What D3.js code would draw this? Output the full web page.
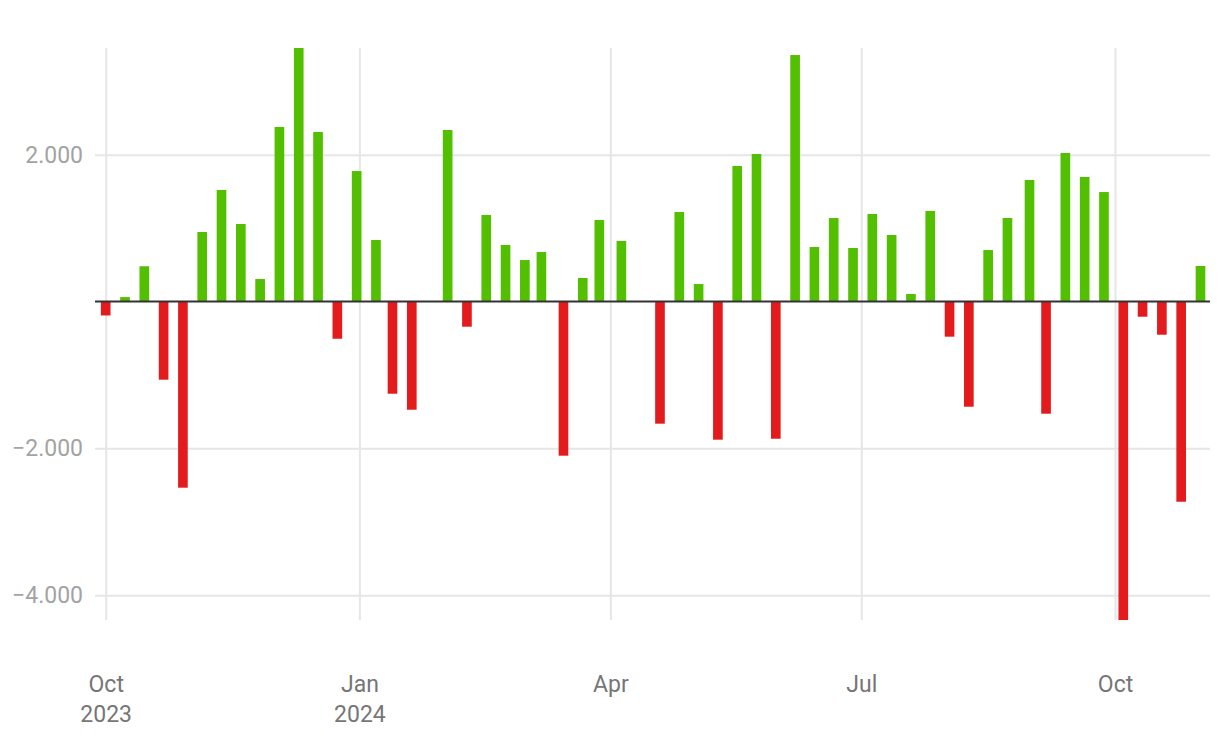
<!DOCTYPE html>
<html><head><meta charset="utf-8">
<script src="https://cdn.jsdelivr.net/npm/d3@7"></script>
<style>body{margin:0;background:#fff} svg{display:block} text{font-family:Roboto, sans-serif}</style>
</head><body><svg id="c" width="1220" height="744"></svg>
<script>
const dates = ["2023-10-01","2023-10-08","2023-10-15","2023-10-22","2023-10-29","2023-11-05","2023-11-12","2023-11-19","2023-11-26","2023-12-03","2023-12-10","2023-12-17","2023-12-24","2023-12-31","2024-01-07","2024-01-13","2024-01-20","2024-02-02","2024-02-09","2024-02-16","2024-02-23","2024-03-01","2024-03-07","2024-03-15","2024-03-22","2024-03-28","2024-04-05","2024-04-19","2024-04-26","2024-05-03","2024-05-10","2024-05-17","2024-05-24","2024-05-31","2024-06-07","2024-06-14","2024-06-21","2024-06-28","2024-07-05","2024-07-12","2024-07-19","2024-07-26","2024-08-02","2024-08-09","2024-08-16","2024-08-23","2024-08-31","2024-09-06","2024-09-13","2024-09-20","2024-09-27","2024-10-04","2024-10-11","2024-10-18","2024-10-25","2024-11-01"];
const values = [-190,60,480,-1065,-2536,947,1519,1056,306,2377,3453,2309,-507,1777,838,-1256,-1474,2336,-343,1178,770,565,674,-2100,320,1110,824,-1664,1219,238,-1882,1846,2009,-1869,3357,742,1137,729,1192,906,102,1233,-479,-1433,701,1137,1655,-1528,2023,1696,1491,-4338,-207,-452,-2727,484];
const yTickValues = [-4000, -2000, 2000];
const xTickDates = ["2023-10-01","2024-01-01","2024-04-01","2024-07-01","2024-10-01"];
const xTickLabels = [["Oct","2023"],["Jan","2024"],["Apr",""],["Jul",""],["Oct",""]];

const parse = d3.utcParse("%Y-%m-%d");
const svg = d3.select("#c");
const mLeft = 95, mRight = 1210, mTop = 48, mBottom = 620;
const x = d3.scaleUtc().domain([parse("2023-10-01"), parse("2024-10-01")]).range([105.7, 1115]);
const y = d3.scaleLinear().domain(d3.extent(values)).range([mBottom, mTop]);
const de = d3.formatLocale({decimal: ",", thousands: ".", grouping: [3], currency: ["", "€"], minus: "\u2212"});
const fmt = de.format(",d");
const barW = (x(parse("2023-10-08")) - x(parse("2023-10-01"))) / 2;

// y axis + horizontal grid
const ya = svg.append("g").attr("transform", `translate(${mLeft},0)`)
  .call(d3.axisLeft(y).tickValues(yTickValues).tickSize(-(mRight - mLeft)).tickPadding(12).tickFormat(fmt));
ya.select(".domain").remove();
ya.selectAll("line").attr("stroke", "#e6e6e6").attr("stroke-width", 2);
ya.selectAll("text").attr("fill", "#a3a3a3").style("font-size", "23px").attr("font-family", "Roboto, sans-serif");

// x axis + vertical grid
const xa = svg.append("g").attr("transform", `translate(0,${mBottom})`)
  .call(d3.axisBottom(x).tickValues(xTickDates.map(parse)).tickSize(-(mBottom - mTop)).tickFormat(""));
xa.select(".domain").remove();
xa.selectAll("line").attr("stroke", "#e6e6e6").attr("stroke-width", 2);
xa.selectAll(".tick").each(function(d, i) {
  const t = d3.select(this).select("text").attr("y", 0).attr("dy", 0)
    .attr("fill", "#767676").style("font-size", "23px").attr("font-family", "Roboto, sans-serif").attr("text-anchor", "middle");
  xTickLabels[i].forEach((s, j) => { if (s) t.append("tspan").attr("x", 0).attr("y", 72 + j * 30).text(s); });
});

// bars
svg.append("g").selectAll("rect").data(values).join("rect")
  .attr("x", (v, i) => x(parse(dates[i])) - barW / 2)
  .attr("width", barW)
  .attr("y", v => Math.min(y(v), y(0)))
  .attr("height", v => Math.abs(y(v) - y(0)))
  .attr("fill", v => v >= 0 ? "#52bf00" : "#e31b1d");

// zero line
svg.append("line").attr("x1", mLeft).attr("x2", mRight).attr("y1", y(0)).attr("y2", y(0))
  .attr("stroke", "#333").attr("stroke-width", 2);
</script></body></html>
